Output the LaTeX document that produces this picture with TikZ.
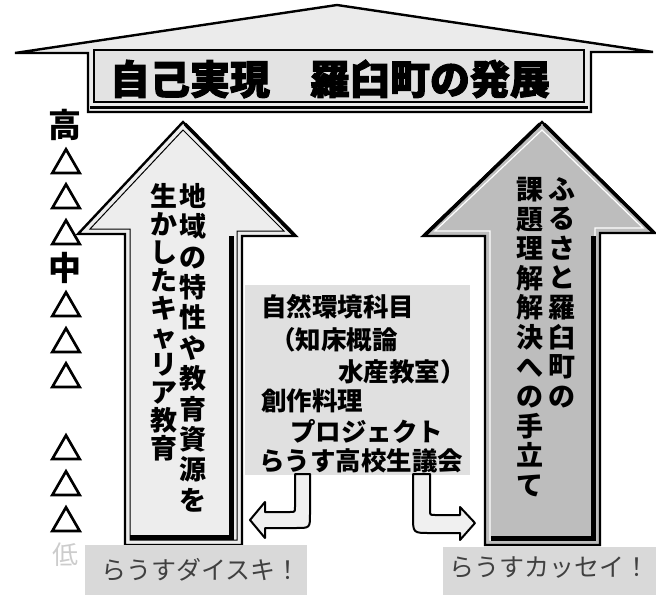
\documentclass[tikz,border=0pt]{standalone}
\usepackage{fontspec}
\newfontfamily\jp{Noto Sans CJK JP}
\newfontfamily\jpheavy{Noto Sans CJK JP}[FakeBold=2.5]
\newfontfamily\jptri{Noto Sans CJK JP}[FakeBold=3.5]
\begin{document}
\begin{tikzpicture}[x=1pt,y=-1pt,
  outline/.style={draw=black,line width=2.4pt,line join=miter},
  roofshape/.style={outline,fill=gray!16},
  titlebox/.style={draw=black,line width=1.2pt,fill=gray!22},
  titletext/.style={font=\jpheavy\bfseries\fontsize{40}{40}\selectfont,inner sep=0pt},
  scalemark/.style={font=\jp\bfseries\fontsize{33}{33}\selectfont,inner sep=0pt},
  trimark/.style={font=\jptri\bfseries\fontsize{32}{32}\selectfont,inner sep=0pt},
  lightarrow/.style={outline,fill=gray!14},
  darkarrow/.style={outline,fill=gray!52},
  shadowband/.style={draw=black,line width=5pt},
  vtextL/.style={font=\jp\bfseries\fontsize{27}{30.4}\selectfont,align=center,inner sep=0pt,anchor=north},
  vtextS/.style={font=\jp\bfseries\fontsize{27}{28}\selectfont,align=center,inner sep=0pt,anchor=north},
  vtextR/.style={font=\jp\bfseries\fontsize{27}{29.6}\selectfont,align=center,inner sep=0pt,anchor=north},
  midfill/.style={fill=gray!24,inner sep=0pt},
  midtext/.style={font=\jp\bfseries\fontsize{25.5}{25.5}\selectfont,inner sep=0pt,anchor=west},
  bentarrow/.style={draw=black,line width=2pt,fill=gray!12,line join=round},
  labelbox/.style={fill=gray!30,inner sep=0pt},
  labeltext/.style={font=\jp\fontsize{25}{25}\selectfont,text=black!75,inner sep=0pt}
]
\useasboundingbox (0,0) rectangle (656,599);

% roof with title box
\draw[roofshape] (15,53) -- (337,5) -- (653,52) -- (591,52) -- (591,112) -- (88,112) -- (88,53) -- cycle;
\draw[titlebox] (94,50) rectangle (584,102);
\draw[draw=black,line width=3pt] (90,108) -- (588,108);
\node[titletext] (title) at (330,79) {自己実現　羅臼町の発展};

% scale column
\node[scalemark] (hi) at (65,125) {高};
\node[trimark] (t1) at (66,161) {△};
\node[trimark] (t2) at (66,196) {△};
\node[trimark] (t3) at (66,232) {△};
\node[scalemark] (mid) at (65,268) {中};
\node[trimark] (t4) at (66,304) {△};
\node[trimark] (t5) at (66,340) {△};
\node[trimark] (t6) at (66,375) {△};
\node[trimark] (t7) at (66,447) {△};
\node[trimark] (t8) at (66,483) {△};
\node[trimark] (t9) at (66,519) {△};
\node[scalemark,text=gray!40,font=\jp\fontsize{26}{26}\selectfont] (lo) at (65,555) {低};

% left big arrow
\draw[lightarrow] (125,545) -- (125,234) -- (78,234) -- (183,122) -- (296,236) -- (242,236) -- (242,545) -- cycle;
\draw[line width=1pt] (130,540) -- (130,229) -- (90,229) -- (183,130) -- (284,231) -- (237,231) -- (237,540) -- cycle;
\draw[shadowband] (130,537) -- (231,537) -- (231,236);
\draw[draw=black,line width=3.5pt] (185,124) -- (294,235);
\node[vtextL] (la) at (193,183) {地\\域\\の\\特\\性\\や\\教\\育\\資\\源\\を};
\node[vtextS] (lb) at (164,183) {生\\か\\し\\た\\キ\\ャ\\リ\\ア\\教\\育};

% right big arrow
\draw[darkarrow] (485,545) -- (485,236) -- (423,236) -- (542,122) -- (655,233) -- (600,233) -- (600,545) -- cycle;
\draw[draw=white,line width=1.2pt] (490,540) -- (490,231) -- (435,231) -- (542,130) -- (643,228) -- (595,228) -- (595,540) -- cycle;
\draw[shadowband] (491,538) -- (593,538) -- (593,236);
\draw[draw=black,line width=3.5pt] (544,124) -- (653,232);
\draw[draw=black,line width=3.5pt] (540,124) -- (425,235);
\node[vtextR] (ra) at (562,177) {ふ\\る\\さ\\と\\羅\\臼\\町\\の};
\node[vtextR] (rb) at (530,177) {課\\題\\理\\解\\解\\決\\へ\\の\\手\\立\\て};

% middle box
\node[midfill,minimum width=225pt,minimum height=190pt] (box) at (357.5,380) {};
\node[midtext] (m1) at (261,307) {自然環境科目};
\node[midtext] (m2) at (270,340) {（知床概論};
\node[midtext] (m3) at (338,372) {水産教室）};
\node[midtext] (m4) at (261,401) {創作料理};
\node[midtext] (m5) at (290,431) {プロジェクト};
\node[midtext] (m6) at (259,461) {らうす高校生議会};

% bent arrows
\draw[bentarrow] (295,474) -- (310,474) -- (310,514) .. controls (310,528) .. (296,528) -- (265,528) -- (265,538) -- (250,520) -- (265,502) -- (265,512) -- (290,512) .. controls (295,512) .. (295,507) -- cycle;
\draw[bentarrow] (413,474) -- (430,474) -- (430,510) .. controls (430,515) .. (435,515) -- (460,515) -- (460,507) -- (475,523) -- (460,540) -- (460,533) -- (430,533) .. controls (413,533) .. (413,516) -- cycle;

% bottom labels
\node[labelbox,minimum width=222pt,minimum height=50pt] (lbox) at (196,570) {};
\node[labeltext] (ltext) at (201,570) {らうすダイスキ！};
\node[labelbox,minimum width=213pt,minimum height=48pt] (rbox) at (549.5,571) {};
\node[labeltext] (rtext) at (549,568) {らうすカッセイ！};
\end{tikzpicture}
\end{document}
